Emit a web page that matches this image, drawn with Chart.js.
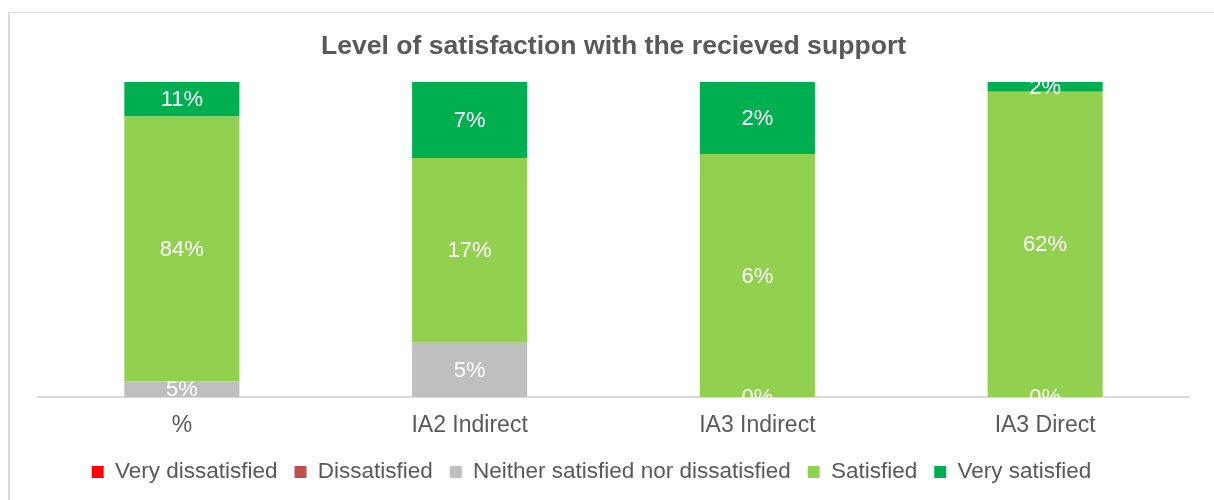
<!DOCTYPE html>
<html>
<head>
<meta charset="utf-8">
<title>Level of satisfaction with the recieved support</title>
<script src="https://cdn.jsdelivr.net/npm/chart.js@4.4.1/dist/chart.umd.min.js"></script>
<style>
    body { margin: 0; background: #fff; overflow: hidden; }
    .frame {
        position: absolute; left: 8px; top: 12px; width: 1300px; height: 600px;
        border-left: 2px solid #d9d9d9; border-top: 1px solid #d9d9d9;
    }
    #satisfaction { position: absolute; left: 0; top: 0; }
</style>
</head>
<body>
<div class="frame"></div>
<canvas id="satisfaction" width="1214" height="500"></canvas>
<script>
const categories = ["%", "IA2 Indirect", "IA3 Indirect", "IA3 Direct"];

// answer shares per group, in percent
const veryDissatisfied = [null, null, null, null];
const dissatisfied = [null, null, null, null];
const neither = [5, 5, 0, 0];
const satisfied = [84, 17, 6.4, 62];
const verySatisfied = [11, 7, 1.9, 2];

const seriesNames = ["Very dissatisfied", "Dissatisfied", "Neither satisfied nor dissatisfied", "Satisfied", "Very satisfied"];
const seriesColors = ["#FF0000", "#C0504D", "#BFBFBF", "#92D050", "#00B050"];
const seriesValues = [veryDissatisfied, dissatisfied, neither, satisfied, verySatisfied];

const textColor = "#595959";
const fontFamily = "'Liberation Sans', Arial, sans-serif";

// each column is drawn as 100% of its own answers
const totals = categories.map((_, i) => seriesValues.reduce((sum, s) => sum + (s[i] || 0), 0));
const asShare = (values) => values.map((v, i) => v === null ? null : 100 * v / totals[i]);

const datasets = seriesNames.map((name, k) => ({
    label: name,
    data: asShare(seriesValues[k]),
    raw: seriesValues[k],
    backgroundColor: seriesColors[k],
    borderWidth: 0,
    categoryPercentage: 1,
    barPercentage: 0.4
}));

// writes the stated percentage in the middle of each segment
const segmentLabels = {
    id: "segmentLabels",
    afterDatasetsDraw(chart) {
        const ctx = chart.ctx;
        ctx.save();
        ctx.font = "22px " + fontFamily;
        ctx.fillStyle = "#ffffff";
        ctx.textAlign = "center";
        ctx.textBaseline = "middle";
        chart.data.datasets.forEach((ds, k) => {
            const meta = chart.getDatasetMeta(k);
            meta.data.forEach((bar, i) => {
                const v = ds.raw[i];
                if (v === null) return;
                const y = (bar.y + bar.base) / 2;
                ctx.fillText(v.toFixed(0) + "%", bar.x, y + 1);
            });
        });
        ctx.restore();
    }
};

// legend sits a little left of the plot centre
const legendShift = {
    id: "legendShift",
    afterLayout(chart) {
        chart.legend.left -= 22;
        chart.legend.right -= 22;
    }
};

new Chart("satisfaction", {
    type: "bar",
    data: { labels: categories, datasets: datasets },
    plugins: [segmentLabels, legendShift],
    options: {
        responsive: false,
        animation: false,
        layout: { padding: { left: 38, right: 25, top: 0, bottom: 6.75 } },
        scales: {
            x: {
                stacked: true,
                grid: { display: false },
                border: { color: "#d9d9d9", width: 2 },
                ticks: { color: textColor, padding: 9.5, font: { size: 23, lineHeight: 1, family: fontFamily } },
                afterFit(scale) { scale.height = 46.75; }
            },
            y: {
                stacked: true,
                display: false,
                min: 0,
                max: 100
            }
        },
        plugins: {
            title: {
                display: true,
                text: "Level of satisfaction with the recieved support",
                color: textColor,
                font: { size: 26.6, weight: "bold", family: fontFamily },
                padding: { top: 31, bottom: 19 }
            },
            legend: {
                position: "bottom",
                labels: {
                    color: textColor,
                    boxWidth: 12,
                    boxHeight: 12,
                    padding: 17,
                    font: { size: 22.5, lineHeight: 1, family: fontFamily }
                }
            },
            tooltip: { enabled: false }
        }
    }
});
</script>
</body>
</html>
